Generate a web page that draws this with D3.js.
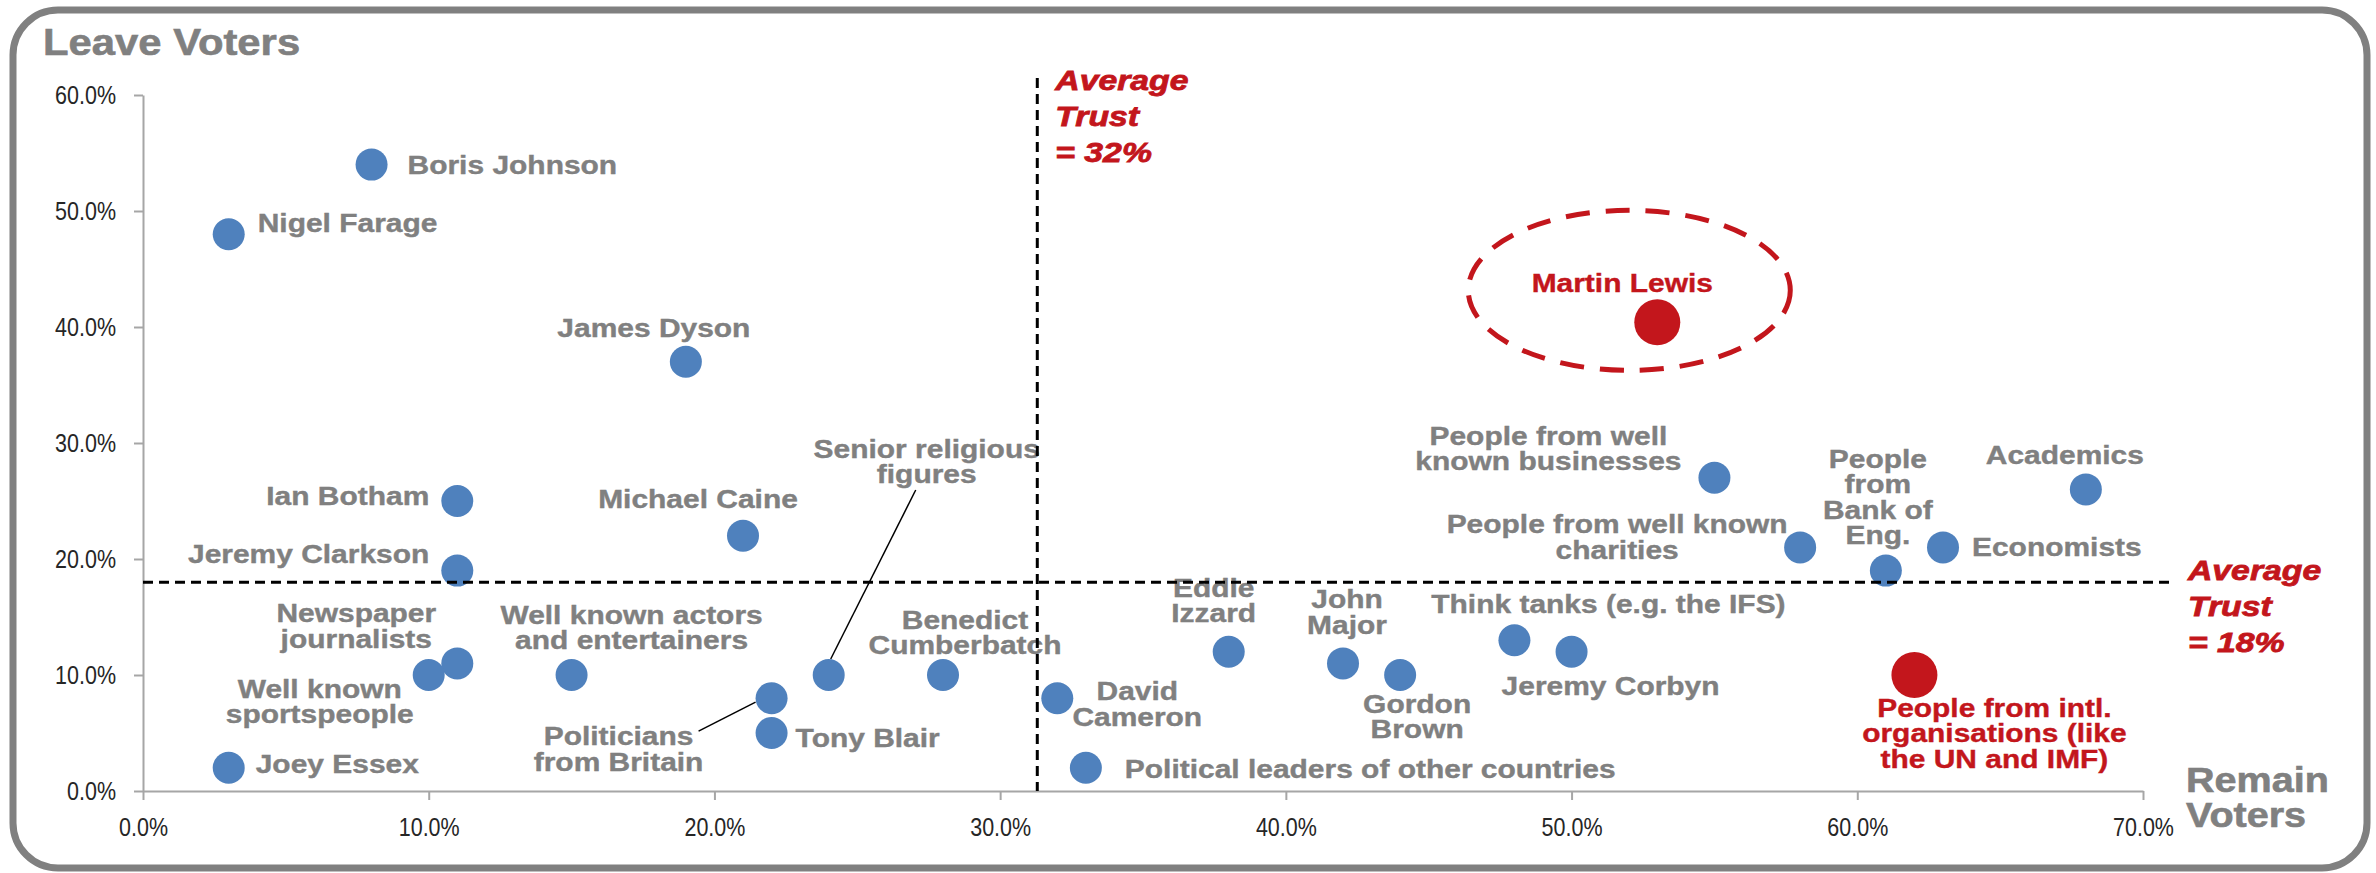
<!DOCTYPE html>
<html>
<head>
<meta charset="utf-8">
<script src="https://cdn.jsdelivr.net/npm/d3@7"></script>
<style>
  body { margin: 0; background: #fff; }
</style>
</head>
<body>
<div id="chart"></div>
<script>
// trust among remain voters (x) and leave voters (y), in %
const names = [
  "Boris Johnson", "Nigel Farage", "James Dyson", "Ian Botham", "Jeremy Clarkson",
  "Michael Caine", "Newspaper journalists", "Well known sportspeople",
  "Well known actors and entertainers", "Politicians from Britain", "Tony Blair",
  "Senior religious figures", "Benedict Cumberbatch", "Joey Essex", "David Cameron",
  "Political leaders of other countries", "Eddie Izzard", "John Major", "Gordon Brown",
  "Think tanks (e.g. the IFS)", "Jeremy Corbyn", "People from well known businesses",
  "People from well known charities", "People from Bank of Eng.", "Economists",
  "Academics", "Martin Lewis", "People from intl. organisations (like the UN and IMF)"
];
const remainTrust = [8, 3, 19, 11, 11, 21, 11, 10, 15, 22, 22, 24, 28, 3, 32, 33, 38, 42, 44, 48, 50, 55, 58, 61, 63, 68, 53, 62];
const leaveTrust  = [54, 48, 37, 25, 19, 22, 11, 10, 10, 8, 5, 10, 10, 2, 8, 2, 12, 11, 10, 13, 12, 27, 21, 19, 21, 26, 40.4, 10];
const highlighted = ["Martin Lewis", "People from intl. organisations (like the UN and IMF)"];

const xTicks = [0, 10, 20, 30, 40, 50, 60, 70];
const yTicks = [0, 10, 20, 30, 40, 50, 60];
const averageRemain = 31.3;
const averageLeave = 18;
const averageRemainText = ["Average", "Trust", "= 32%"];
const averageLeaveText = ["Average", "Trust", "= 18%"];

// label placement: line breaks, offset from the dot, anchor
const labelLayout = {
  "Boris Johnson": { lines: ["Boris Johnson"], dx: 36, dy: 9, a: "start" },
  "Nigel Farage": { lines: ["Nigel Farage"], dx: 29, dy: -2, a: "start" },
  "James Dyson": { lines: ["James Dyson"], dx: -32, dy: -25, a: "middle" },
  "Ian Botham": { lines: ["Ian Botham"], dx: -28, dy: 4, a: "end" },
  "Jeremy Clarkson": { lines: ["Jeremy Clarkson"], dx: -28, dy: -8, a: "end" },
  "Michael Caine": { lines: ["Michael Caine"], dx: -45, dy: -28, a: "middle" },
  "Newspaper journalists": { lines: ["Newspaper", "journalists"], dx: -101, dy: -41, a: "middle" },
  "Well known sportspeople": { lines: ["Well known", "sportspeople"], dx: -109, dy: 23, a: "middle" },
  "Well known actors and entertainers": { lines: ["Well known actors", "and entertainers"], dx: 60, dy: -51, a: "middle" },
  "Politicians from Britain": { lines: ["Politicians", "from Britain"], dx: -153, dy: 47, a: "middle", leader: [[-73, 33], [-16, 4]] },
  "Tony Blair": { lines: ["Tony Blair"], dx: 24, dy: 14, a: "start" },
  "Senior religious figures": { lines: ["Senior religious", "figures"], dx: 98, dy: -217, a: "middle", leader: [[2, -16], [87, -185]] },
  "Benedict Cumberbatch": { lines: ["Benedict", "Cumberbatch"], dx: 22, dy: -46, a: "middle" },
  "Joey Essex": { lines: ["Joey Essex"], dx: 27, dy: 5, a: "start" },
  "David Cameron": { lines: ["David", "Cameron"], dx: 80, dy: 2, a: "middle" },
  "Political leaders of other countries": { lines: ["Political leaders of other countries"], dx: 39, dy: 10, a: "start" },
  "Eddie Izzard": { lines: ["Eddie", "Izzard"], dx: -15, dy: -55, a: "middle" },
  "John Major": { lines: ["John", "Major"], dx: 4, dy: -55, a: "middle" },
  "Gordon Brown": { lines: ["Gordon", "Brown"], dx: 17, dy: 38, a: "middle" },
  "Think tanks (e.g. the IFS)": { lines: ["Think tanks (e.g. the IFS)"], dx: 94, dy: -27, a: "middle" },
  "Jeremy Corbyn": { lines: ["Jeremy Corbyn"], dx: 39, dy: 43, a: "middle" },
  "People from well known businesses": { lines: ["People from well", "known businesses"], dx: -166, dy: -33, a: "middle" },
  "People from well known charities": { lines: ["People from well known", "charities"], dx: -183, dy: -14, a: "middle" },
  "People from Bank of Eng.": { lines: ["People", "from", "Bank of", "Eng."], dx: -8, dy: -103, a: "middle" },
  "Economists": { lines: ["Economists"], dx: 29, dy: 9, a: "start" },
  "Academics": { lines: ["Academics"], dx: -21, dy: -25, a: "middle" },
  "Martin Lewis": { lines: ["Martin Lewis"], dx: -35, dy: -30, a: "middle" },
  "People from intl. organisations (like the UN and IMF)": { lines: ["People from intl.", "organisations (like", "the UN and IMF)"], dx: 80, dy: 42, a: "middle" }
};

const width = 2376;
const height = 873;
const grey = "#808080";
const blue = "#4f81bd";
const red = "#c3161c";
const stretch = 1.13;
const squeeze = 0.86;

const points = names.map((n, i) => ({ name: n, rx: remainTrust[i], ly: leaveTrust[i], hot: highlighted.includes(n) }));

const x = d3.scaleLinear().domain([0, 70]).range([143, 2143]);
const y = d3.scaleLinear().domain([0, 60]).range([791, 95]);

const svg = d3.select("#chart").append("svg")
    .attr("width", width)
    .attr("height", height);

svg.append("rect")
    .attr("x", 13).attr("y", 10)
    .attr("width", 2354).attr("height", 858)
    .attr("rx", 45)
    .attr("fill", "#fff")
    .attr("stroke", grey)
    .attr("stroke-width", 7);

const pct = d => d.toFixed(1) + "%";

const xAxis = svg.append("g")
    .attr("transform", `translate(0,${y(0)})`)
    .call(d3.axisBottom(x).tickValues(xTicks).tickFormat(pct).tickSize(9).tickSizeOuter(0).tickPadding(18));

const yAxis = svg.append("g")
    .attr("transform", `translate(${x(0)},0)`)
    .call(d3.axisLeft(y).tickValues(yTicks).tickFormat(pct).tickSize(9).tickSizeOuter(0).tickPadding(27 / squeeze - 9));

[xAxis, yAxis].forEach(ax => {
  ax.select(".domain").attr("stroke", "#a6a6a6").attr("stroke-width", 2);
  ax.selectAll(".tick line").attr("stroke", "#a6a6a6").attr("stroke-width", 2);
  ax.selectAll(".tick text")
      .attr("fill", "#262626")
      .attr("transform", `scale(${squeeze},1)`)
      .style("font-family", "'Liberation Sans Narrow', 'Liberation Sans', sans-serif")
      .style("font-size", "25px");
});

// titles
const bigText = (tx, ty, lines, size, gap) => {
  const g = svg.append("g").attr("transform", `translate(${tx},${ty}) scale(${stretch},1)`);
  lines.forEach((t, i) => g.append("text")
      .attr("y", i * gap)
      .attr("fill", grey)
      .attr("stroke", grey).attr("stroke-width", 0.6)
      .style("font-family", "'Liberation Sans', Arial, sans-serif")
      .style("font-weight", "bold")
      .style("font-size", size + "px")
      .text(t));
};
bigText(43, 55, ["Leave Voters"], 37, 0);
bigText(2186, 792, ["Remain", "Voters"], 35, 35);

// ellipse round Martin Lewis
const ml = points.find(p => p.name === "Martin Lewis");
svg.append("ellipse")
    .attr("cx", x(ml.rx) - 28).attr("cy", y(ml.ly) - 32)
    .attr("rx", 161).attr("ry", 80)
    .attr("fill", "none")
    .attr("stroke", red)
    .attr("stroke-width", 5)
    .attr("stroke-dasharray", "24,16");

// leader lines
points.forEach(p => {
  const L = labelLayout[p.name];
  if (!L.leader) return;
  svg.append("line")
      .attr("x1", x(p.rx) + L.leader[0][0]).attr("y1", y(p.ly) + L.leader[0][1])
      .attr("x2", x(p.rx) + L.leader[1][0]).attr("y2", y(p.ly) + L.leader[1][1])
      .attr("stroke", "#000").attr("stroke-width", 1.5);
});

// dots
svg.append("g").selectAll("circle")
    .data(points)
    .join("circle")
    .attr("cx", d => x(d.rx))
    .attr("cy", d => y(d.ly))
    .attr("r", d => d.hot ? 23 : 16)
    .attr("fill", d => d.hot ? red : blue);

// labels
const labels = svg.append("g").selectAll("g")
    .data(points)
    .join("g")
    .attr("transform", d => {
      const L = labelLayout[d.name];
      return `translate(${x(d.rx) + L.dx},${y(d.ly) + L.dy}) scale(${stretch},1)`;
    });

labels.each(function (d) {
  const L = labelLayout[d.name];
  const col = d.hot ? red : grey;
  const t = d3.select(this).append("text")
      .attr("text-anchor", L.a)
      .attr("fill", col)
      .attr("stroke", col).attr("stroke-width", 0.4)
      .style("font-family", "'Liberation Sans', Arial, sans-serif")
      .style("font-weight", "bold")
      .style("font-size", "26.5px");
  L.lines.forEach((ln, i) => t.append("tspan").attr("x", 0).attr("y", i * 25.5).text(ln));
});

// average lines
svg.append("line")
    .attr("x1", x(0)).attr("x2", x(71))
    .attr("y1", y(averageLeave)).attr("y2", y(averageLeave))
    .attr("stroke", "#000").attr("stroke-width", 3)
    .attr("stroke-dasharray", "10,6");

svg.append("line")
    .attr("x1", x(averageRemain)).attr("x2", x(averageRemain))
    .attr("y1", 78).attr("y2", y(0))
    .attr("stroke", "#000").attr("stroke-width", 3)
    .attr("stroke-dasharray", "10,6");

const redNote = (tx, ty, lines) => {
  const g = svg.append("g").attr("transform", `translate(${tx},${ty}) scale(1.25,1)`);
  lines.forEach((t, i) => g.append("text")
      .attr("y", i * 36)
      .attr("fill", red)
      .attr("stroke", red).attr("stroke-width", 0.8)
      .style("font-family", "'Liberation Sans', Arial, sans-serif")
      .style("font-weight", "bold")
      .style("font-style", "italic")
      .style("font-size", "27px")
      .text(t));
};
redNote(x(averageRemain) + 18, 90, averageRemainText);
redNote(x(70) + 45, y(averageLeave) - 2, averageLeaveText);
</script>
</body>
</html>
